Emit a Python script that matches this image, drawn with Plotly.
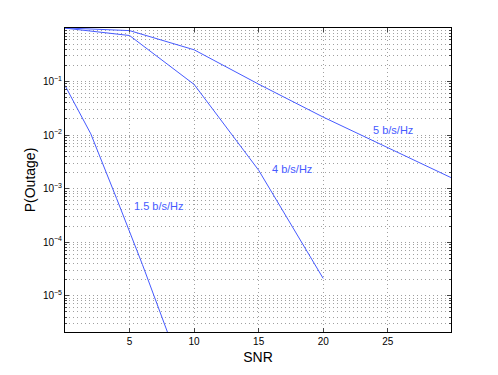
import plotly.graph_objects as go

# ==============================
# DATA
# ==============================

snr_15 = [0, 2, 4, 6, 8]
pout_15 = [0.084, 0.0105, 6.5e-4, 3.8e-5, 1.9e-6]

snr_4 = [0, 5, 10, 15, 20]
pout_4 = [0.99, 0.72, 0.088, 2.2e-3, 2.1e-5]

snr_5 = [0, 5, 10, 15, 20, 25, 30]
pout_5 = [0.998, 0.89, 0.39, 0.089, 0.0216, 5.8e-3, 1.56e-3]

curve_labels = ["1.5 b/s/Hz", "4 b/s/Hz", "5 b/s/Hz"]
label_x = [7.3, 17.6, 25.4]
label_logy = [-3.33, -2.64, -1.907]

x_ticks = [5, 10, 15, 20, 25]
y_ticks = [1e-1, 1e-2, 1e-3, 1e-4, 1e-5]
y_ticktext = ["10<sup>−1</sup>", "10<sup>−2</sup>", "10<sup>−3</sup>",
              "10<sup>−4</sup>", "10<sup>−5</sup>"]

# ==============================
# BUILD GRAPH
# ==============================

blue = "rgb(70,90,255)"
grid = "rgb(160,160,160)"
dots = "1px,3px"
font = "Liberation Sans, Arial, sans-serif"

fig = go.Figure()

for xs, ys in [(snr_15, pout_15), (snr_4, pout_4), (snr_5, pout_5)]:
    fig.add_trace(go.Scatter(
        x=xs, y=ys, mode="lines",
        line=dict(color=blue, width=1),
        showlegend=False, hoverinfo="skip"
    ))

for txt, lx, ly in zip(curve_labels, label_x, label_logy):
    fig.add_annotation(
        x=lx, y=ly, text=txt, showarrow=False,
        font=dict(family=font, size=11, color=blue),
        bgcolor="white", borderpad=1
    )

minor_y = [k * 10.0 ** d for d in range(-6, 0) for k in range(2, 10)]

# ==============================
# STYLE
# ==============================

# page body has an 8px margin, so the figure is a bit smaller than the window
fig.update_layout(
    width=490, height=367,
    margin=dict(l=57, r=47, t=20, b=43, autoexpand=False),
    paper_bgcolor="white", plot_bgcolor="white",
    font=dict(family=font, size=10, color="black"),
    xaxis=dict(
        range=[0, 29.9], tickvals=x_ticks, ticks="inside", ticklen=4,
        showline=True, linecolor="black", linewidth=1, mirror="ticks",
        showgrid=True, gridcolor=grid, griddash=dots, gridwidth=1,
        zeroline=False,
        title=dict(text="SNR", font=dict(size=14), standoff=6),
    ),
    yaxis=dict(
        type="log", range=[-5.678, -0.002],
        tickvals=y_ticks, ticktext=y_ticktext, ticks="inside", ticklen=4,
        showline=True, linecolor="black", linewidth=1, mirror="ticks",
        showgrid=True, gridcolor=grid, griddash=dots, gridwidth=1,
        zeroline=False,
        minor=dict(tickvals=minor_y, ticks="inside", ticklen=2,
                   showgrid=True, gridcolor=grid, griddash=dots),
        title=dict(text="P(Outage)", font=dict(size=14), standoff=3),
    ),
)

fig.write_html("out.html")
